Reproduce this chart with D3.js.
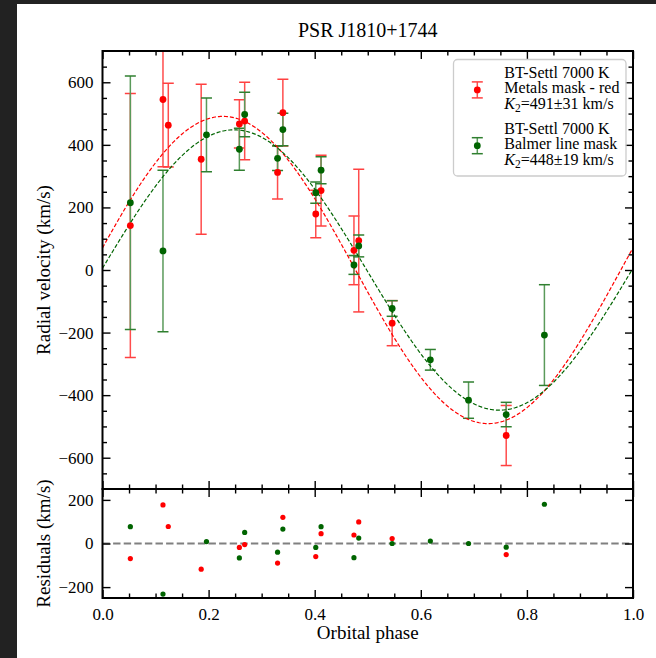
<!DOCTYPE html>
<html>
<head>
<meta charset="utf-8">
<script src="https://cdn.jsdelivr.net/npm/d3@7"></script>
<style>
  body { margin: 0; background: #222222; }
  svg { display: block; }
  text { font-family: "Liberation Serif", "DejaVu Serif", serif; fill: #000; }
</style>
</head>
<body>
<svg id="chart" width="656" height="658"></svg>
<script>
//Phase folded radial velocities, metals mask (red)
var redPhase = [0.0525, 0.114, 0.124, 0.186, 0.258, 0.268, 0.330, 0.340, 0.402, 0.412, 0.474, 0.483, 0.546, 0.761];
var redVel   = [142, 545, 463, 354, 467, 476, 312, 503, 179, 254, 63, 94, -170, -529];
var redErr   = [422, 215, 134, 240, 77, 124, 85, 107, 76, 113, 110, 228, 72, 96];
var redRes   = [-69, 177, 78, -118, -18, -5, -90, 120, -60, 45, 39, 99, 23, -51];

//Balmer line mask (green)
var greenPhase = [0.0525, 0.114, 0.196, 0.258, 0.268, 0.330, 0.340, 0.402, 0.412, 0.474, 0.483, 0.546, 0.618, 0.690, 0.761, 0.833];
var greenVel   = [215, 61, 432, 386, 497, 357, 449, 247, 319, 16, 77, -123, -287, -416, -462, -208];
var greenErr   = [405, 258, 118, 67, 71, 39, 52, 34, 43, 30, 35, 25, 33, 58, 39, 161];
var greenRes   = [77, -232, 9, -66, 51, -40, 66, -18, 77, -65, 25, 0, 11, 0, -17, 180];

//Fitted sine models: semi-amplitude, its error and the phase of maximum
var modelK    = [491, 448];
var modelKErr = [31, 19];
var modelPeak = [0.227, 0.248];

//Tick values
var xMajor = [0, 0.2, 0.4, 0.6, 0.8, 1.0];
var xMinor = [0.05, 0.1, 0.15, 0.25, 0.3, 0.35, 0.45, 0.5, 0.55, 0.65, 0.7, 0.75, 0.85, 0.9, 0.95];
var yMajor = [-600, -400, -200, 0, 200, 400, 600];
var yMinor = [-650, -550, -500, -450, -350, -300, -250, -150, -100, -50, 50, 100, 150, 250, 300, 350, 450, 500, 550, 650];
var resMajor = [-200, 0, 200];

var legendTitles = [["BT-Settl 7000 K", "Metals mask - red"], ["BT-Settl 7000 K", "Balmer line mask"]];

var colors    = ["#ff0000", "#006400"];
var barColors = ["#ff4d4d", "#5a9a5a"];   //lighter, solid error bar colours
var capColors = ["#ff4040", "#2f7f2f"];

var svg = d3.select("#chart");

//White figure area, the dark strip stays visible on the left and top
svg.append("rect")
  .attr("x", 17).attr("y", 4)
  .attr("width", 639).attr("height", 654)
  .attr("fill", "#ffffff");

//Panel edges (window.top is read-only, so no plain "top" here)
var plotLeft = 102.5, plotRight = 633,
    plotTop = 51, plotMid = 489, plotBottom = 598;

var x = d3.scaleLinear().domain([0, 1]).range([plotLeft, plotRight]);
var y = d3.scaleLinear().domain([-700, 700]).range([plotMid, plotTop]);
var yRes = d3.scaleLinear().domain([-250, 250]).range([plotBottom, plotMid]);

svg.append("clipPath").attr("id", "clipTop")
  .append("rect")
  .attr("x", plotLeft).attr("y", plotTop)
  .attr("width", plotRight - plotLeft).attr("height", plotMid - plotTop);

var plot = svg.append("g").attr("clip-path", "url(#clipTop)");

//Error bars with caps
function drawErrorBars(phase, vel, err, k) {
  var capHalf = 5.5;
  var g = plot.append("g").attr("stroke-width", 1.5);
  phase.forEach(function(p, i) {
    var cx = x(p), lo = y(vel[i] - err[i]), hi = y(vel[i] + err[i]);
    g.append("line").attr("x1", cx).attr("x2", cx).attr("y1", lo).attr("y2", hi)
      .attr("stroke", barColors[k]);
    g.append("line").attr("x1", cx - capHalf).attr("x2", cx + capHalf).attr("y1", lo).attr("y2", lo)
      .attr("stroke", capColors[k]);
    g.append("line").attr("x1", cx - capHalf).attr("x2", cx + capHalf).attr("y1", hi).attr("y2", hi)
      .attr("stroke", capColors[k]);
  });
}

drawErrorBars(redPhase, redVel, redErr, 0);
drawErrorBars(greenPhase, greenVel, greenErr, 1);

//Model curves
var curvePhase = d3.range(0, 1.0001, 0.0025);
modelK.forEach(function(K, k) {
  var line = d3.line()
    .x(function(p) { return x(p); })
    .y(function(p) { return y(K * Math.sin(2 * Math.PI * (p - modelPeak[k] + 0.25))); });
  plot.append("path")
    .datum(curvePhase)
    .attr("d", line)
    .attr("fill", "none")
    .attr("stroke", colors[k])
    .attr("stroke-width", 1.2)
    .attr("stroke-dasharray", "4,2");
});

//Markers
function drawPoints(parent, phase, vals, scale, color, r) {
  parent.append("g").selectAll("circle")
    .data(phase)
    .enter().append("circle")
      .attr("cx", function(p) { return x(p); })
      .attr("cy", function(p, i) { return scale(vals[i]); })
      .attr("r", r)
      .attr("fill", color);
}
drawPoints(plot, redPhase, redVel, y, colors[0], 3.4);
drawPoints(plot, greenPhase, greenVel, y, colors[1], 3.4);

//Residuals panel
svg.append("line")
  .attr("x1", plotLeft).attr("x2", plotRight)
  .attr("y1", yRes(0)).attr("y2", yRes(0))
  .attr("stroke", "#808080")
  .attr("stroke-width", 2)
  .attr("stroke-dasharray", "7.4,3.2");
drawPoints(svg, redPhase, redRes, yRes, colors[0], 2.6);
drawPoints(svg, greenPhase, greenRes, yRes, colors[1], 2.6);

//Ticks pointing inward on all four sides
function addTicks(yScale, y0, y1, yMaj, yMin, showX) {
  var fmtX = showX ? d3.format(".1f") : "";
  var axes = [];
  axes.push(svg.append("g").attr("transform", "translate(0," + y1 + ")")
    .call(d3.axisBottom(x).tickValues(xMajor).tickSize(-8).tickPadding(9.5).tickFormat(fmtX)));
  axes.push(svg.append("g").attr("transform", "translate(0," + y1 + ")")
    .call(d3.axisBottom(x).tickValues(xMinor).tickSize(-4.5).tickFormat("")));
  axes.push(svg.append("g").attr("transform", "translate(0," + y0 + ")")
    .call(d3.axisTop(x).tickValues(xMajor).tickSize(-8).tickFormat("")));
  axes.push(svg.append("g").attr("transform", "translate(0," + y0 + ")")
    .call(d3.axisTop(x).tickValues(xMinor).tickSize(-4.5).tickFormat("")));
  axes.push(svg.append("g").attr("transform", "translate(" + plotLeft + ",0)")
    .call(d3.axisLeft(yScale).tickValues(yMaj).tickSize(-8).tickPadding(9)));
  axes.push(svg.append("g").attr("transform", "translate(" + plotRight + ",0)")
    .call(d3.axisRight(yScale).tickValues(yMaj).tickSize(-8).tickFormat("")));
  if (yMin.length) {
    axes.push(svg.append("g").attr("transform", "translate(" + plotLeft + ",0)")
      .call(d3.axisLeft(yScale).tickValues(yMin).tickSize(-4.5).tickFormat("")));
    axes.push(svg.append("g").attr("transform", "translate(" + plotRight + ",0)")
      .call(d3.axisRight(yScale).tickValues(yMin).tickSize(-4.5).tickFormat("")));
  }
  axes.forEach(function(a) {
    a.select(".domain").remove();
    a.selectAll(".tick line").attr("stroke", "#000").attr("stroke-width", 1.4);
    a.selectAll(".tick text")
      .style("font-family", '"Liberation Serif", serif')
      .style("font-size", "17px")
      .attr("fill", "#000");
  });
  //Frame
  svg.append("rect")
    .attr("x", plotLeft).attr("y", y0)
    .attr("width", plotRight - plotLeft).attr("height", y1 - y0)
    .attr("fill", "none")
    .attr("stroke", "#000")
    .attr("stroke-width", 2);
}

addTicks(y, plotTop, plotMid, yMajor, yMinor, false);
addTicks(yRes, plotMid, plotBottom, resMajor, [], true);

//Texts
svg.append("text")
  .attr("x", (plotLeft + plotRight) / 2).attr("y", 37)
  .attr("text-anchor", "middle")
  .style("font-size", "20px")
  .text("PSR J1810+1744");

svg.append("text")
  .attr("x", (plotLeft + plotRight) / 2).attr("y", 639)
  .attr("text-anchor", "middle")
  .style("font-size", "19px")
  .text("Orbital phase");

svg.append("text")
  .attr("transform", "translate(50," + (plotTop + plotMid) / 2 + ") rotate(-90)")
  .attr("text-anchor", "middle")
  .style("font-size", "19px")
  .text("Radial velocity (km/s)");

svg.append("text")
  .attr("transform", "translate(50," + (plotMid + plotBottom) / 2 + ") rotate(-90)")
  .attr("text-anchor", "middle")
  .style("font-size", "19px")
  .text("Residuals (km/s)");

//Legend
var legend = svg.append("g");
legend.append("rect")
  .attr("x", 453.5).attr("y", 59.5)
  .attr("width", 172.5).attr("height", 116.5)
  .attr("rx", 4)
  .attr("fill", "#ffffff").attr("fill-opacity", 0.8)
  .attr("stroke", "#cccccc").attr("stroke-width", 1.3);

var entryTop = [78, 133.8], linePitch = 15.4;
modelK.forEach(function(K, k) {
  var my = entryTop[k] + linePitch - 3.5, mx = 477.3;
  var eg = legend.append("g").attr("stroke-width", 1.5);
  eg.append("line").attr("x1", mx).attr("x2", mx).attr("y1", my - 8).attr("y2", my + 8)
    .attr("stroke", barColors[k]);
  eg.append("line").attr("x1", mx - 5.5).attr("x2", mx + 5.5).attr("y1", my - 8).attr("y2", my - 8)
    .attr("stroke", capColors[k]);
  eg.append("line").attr("x1", mx - 5.5).attr("x2", mx + 5.5).attr("y1", my + 8).attr("y2", my + 8)
    .attr("stroke", capColors[k]);
  legend.append("circle").attr("cx", mx).attr("cy", my).attr("r", 3.4).attr("fill", colors[k]);

  legendTitles[k].forEach(function(t, j) {
    legend.append("text")
      .attr("x", 504.3).attr("y", entryTop[k] + j * linePitch)
      .style("font-size", "16px")
      .text(t);
  });
  var kt = legend.append("text")
    .attr("x", 504.3).attr("y", entryTop[k] + 2 * linePitch)
    .style("font-size", "16px");
  kt.append("tspan").attr("font-style", "italic").text("K");
  kt.append("tspan").attr("dy", 3.5).style("font-size", "11.5px").text("2");
  kt.append("tspan").attr("dy", -3.5).text("=" + K + "±" + modelKErr[k] + " km/s");
});
</script>
</body>
</html>
